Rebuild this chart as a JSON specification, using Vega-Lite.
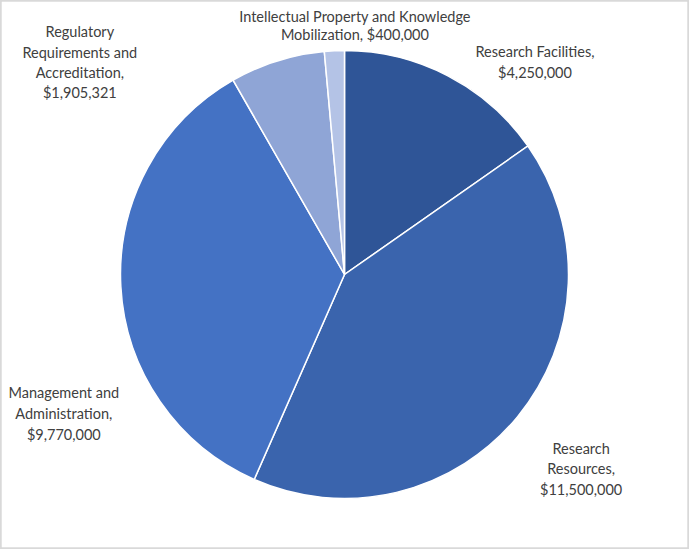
{
  "$schema": "https://vega.github.io/schema/vega-lite/v6.json",
  "width": 689,
  "height": 549,
  "autosize": {"type": "none"},
  "padding": 0,
  "background": "white",
  "config": {"view": {"stroke": null}},
  "data": {
    "values": [
      {"category": "Research Facilities", "value": 4250000, "order": 1, "label": "Research Facilities,\n$4,250,000"},
      {"category": "Research Resources", "value": 11500000, "order": 2, "label": "Research\nResources,\n$11,500,000"},
      {"category": "Management and Administration", "value": 9770000, "order": 3, "label": "Management and\nAdministration,\n$9,770,000"},
      {"category": "Regulatory Requirements and Accreditation", "value": 1905321, "order": 4, "label": "Regulatory\nRequirements and\nAccreditation,\n$1,905,321"},
      {"category": "Intellectual Property and Knowledge Mobilization", "value": 400000, "order": 5, "label": "Intellectual Property and Knowledge\nMobilization,  $400,000"}
    ]
  },
  "layer": [
    {
      "mark": {"type": "rect", "fill": null, "stroke": "#d9d9d9", "strokeWidth": 2.5},
      "encoding": {
        "x": {"value": 0},
        "x2": {"value": "width"},
        "y": {"value": 0},
        "y2": {"value": "height"}
      }
    },
    {
      "mark": {"type": "arc", "outerRadius": 224, "stroke": "white", "strokeWidth": 1.5},
      "encoding": {
        "theta": {"field": "value", "type": "quantitative", "stack": true},
        "order": {"field": "order", "type": "quantitative"},
        "color": {
          "field": "category",
          "type": "nominal",
          "scale": {
            "domain": ["Research Facilities", "Research Resources", "Management and Administration", "Regulatory Requirements and Accreditation", "Intellectual Property and Knowledge Mobilization"],
            "range": ["#2F5597", "#3A64AD", "#4472C4", "#8FA5D6", "#B4C3E6"]
          },
          "legend": null
        }
      }
    },
    {
      "mark": {"type": "text", "radius": 235, "dx": 82, "dy": -13, "align": "center", "baseline": "middle", "lineBreak": "\n", "lineHeight": 20.5, "font": "Lato", "fontSize": 14.5, "fill": "#404040"},
      "encoding": {
        "theta": {"field": "value", "type": "quantitative", "stack": true},
        "order": {"field": "order", "type": "quantitative"},
        "text": {"condition": {"test": "datum.order == 1", "field": "label"}, "value": ""}
      }
    },
    {
      "mark": {"type": "text", "radius": 235, "dx": 55, "dy": 26, "align": "center", "baseline": "middle", "lineBreak": "\n", "lineHeight": 20.5, "font": "Lato", "fontSize": 14.5, "fill": "#404040"},
      "encoding": {
        "theta": {"field": "value", "type": "quantitative", "stack": true},
        "order": {"field": "order", "type": "quantitative"},
        "text": {"condition": {"test": "datum.order == 2", "field": "label"}, "value": ""}
      }
    },
    {
      "mark": {"type": "text", "radius": 235, "dx": -46, "dy": 107, "align": "center", "baseline": "middle", "lineBreak": "\n", "lineHeight": 21, "font": "Lato", "fontSize": 14.5, "fill": "#404040"},
      "encoding": {
        "theta": {"field": "value", "type": "quantitative", "stack": true},
        "order": {"field": "order", "type": "quantitative"},
        "text": {"condition": {"test": "datum.order == 3", "field": "label"}, "value": ""}
      }
    },
    {
      "mark": {"type": "text", "radius": 235, "dx": -194, "dy": -17, "align": "center", "baseline": "middle", "lineBreak": "\n", "lineHeight": 20.3, "font": "Lato", "fontSize": 14.5, "fill": "#404040"},
      "encoding": {
        "theta": {"field": "value", "type": "quantitative", "stack": true},
        "order": {"field": "order", "type": "quantitative"},
        "text": {"condition": {"test": "datum.order == 4", "field": "label"}, "value": ""}
      }
    },
    {
      "mark": {"type": "text", "radius": 235, "dx": 21, "dy": -22, "align": "center", "baseline": "middle", "lineBreak": "\n", "lineHeight": 18.5, "font": "Lato", "fontSize": 14.5, "fill": "#404040"},
      "encoding": {
        "theta": {"field": "value", "type": "quantitative", "stack": true},
        "order": {"field": "order", "type": "quantitative"},
        "text": {"condition": {"test": "datum.order == 5", "field": "label"}, "value": ""}
      }
    }
  ]
}
